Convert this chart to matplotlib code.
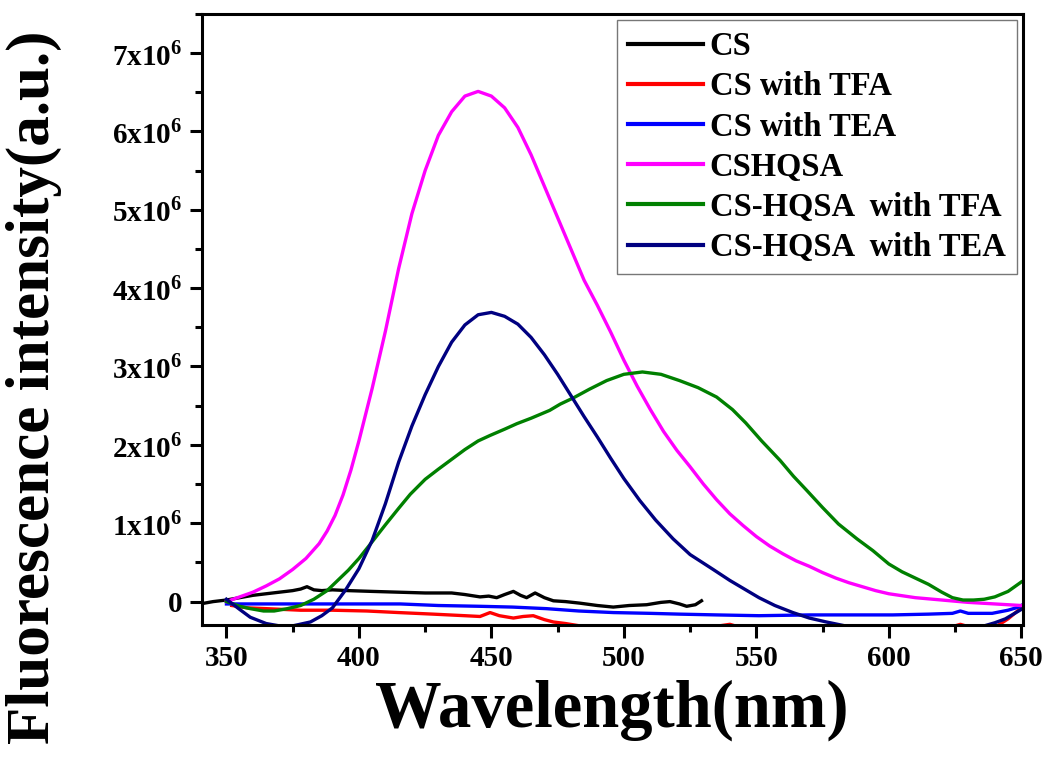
import numpy as np
import matplotlib
matplotlib.use("Agg")
from matplotlib import pyplot as plt
from matplotlib.ticker import MultipleLocator, FuncFormatter

plt.rcParams['font.family'] = ['Liberation Serif', 'DejaVu Serif']
plt.rcParams['font.weight'] = 'bold'
plt.rcParams['mathtext.fontset'] = 'custom'
plt.rcParams['mathtext.rm'] = 'Liberation Serif:bold'
plt.rcParams['mathtext.bf'] = 'Liberation Serif:bold'

# spectra, wavelength in nm, intensity in units of 1e6
cs_wl = [340, 345, 350, 355, 360, 365, 370, 375, 378, 380.4, 383, 386, 390, 396, 405, 415, 425, 435,
         440, 445.7, 449, 452, 455, 458.3, 461, 463.3, 466.5, 470, 473.4, 478, 483.4, 490, 496, 502,
         508.6, 514, 517.4, 521, 523.7, 527, 529.3]
cs_int = [-0.03, 0.0, 0.02, 0.05, 0.08, 0.10, 0.12, 0.14, 0.16, 0.19, 0.15, 0.14, 0.15, 0.14, 0.13, 0.12, 0.11, 0.11,
          0.09, 0.06, 0.07, 0.05, 0.09, 0.13, 0.08, 0.05, 0.11, 0.05, 0.01, 0.0, -0.02, -0.05, -0.07, -0.05,
          -0.04, -0.01, 0.0, -0.03, -0.06, -0.04, 0.01]

tfa_wl = [352, 358, 365, 378, 390, 403, 415, 428, 440, 445.7, 449.5, 453, 458.3, 462, 465.8, 470, 473.4, 478,
          483.4, 495, 510, 530, 536, 540, 545, 570, 600, 622, 627, 632, 640, 645, 650]
tfa_int = [-0.05, -0.08, -0.09, -0.11, -0.11, -0.12, -0.14, -0.16, -0.18, -0.19, -0.14, -0.18, -0.21, -0.19, -0.18,
           -0.23, -0.26, -0.28, -0.31, -0.33, -0.34, -0.34, -0.31, -0.29, -0.34, -0.35, -0.35, -0.34, -0.29, -0.34,
           -0.33, -0.22, -0.08]

tea_wl = [350, 378, 400, 415.6, 430, 445.7, 458, 470.8, 483, 496, 510, 521, 535, 551, 570, 585, 601.5, 615,
          624, 627, 630, 639, 645, 649, 650]
tea_int = [-0.03, -0.03, -0.03, -0.03, -0.05, -0.06, -0.07, -0.09, -0.12, -0.14, -0.15, -0.16, -0.17, -0.18,
           -0.17, -0.17, -0.17, -0.16, -0.15, -0.12, -0.15, -0.15, -0.11, -0.07, -0.05]

hq_wl = [350, 355, 360, 365, 370, 375, 380, 385, 388, 391, 394, 397, 400, 405, 410, 415, 420, 425, 430, 435,
         440, 445, 450, 455, 460, 465, 470, 475, 480, 485, 490, 495, 500, 505, 510, 515, 520, 525, 530, 535,
         540, 545, 550, 555, 560, 565, 570, 575, 580, 585, 590, 595, 600, 610, 620, 630, 640, 650]
hq_int = [0.0, 0.06, 0.12, 0.20, 0.29, 0.41, 0.55, 0.74, 0.90, 1.10, 1.36, 1.68, 2.05, 2.72, 3.45, 4.25, 4.95,
          5.50, 5.95, 6.25, 6.45, 6.51, 6.45, 6.30, 6.05, 5.70, 5.30, 4.90, 4.50, 4.10, 3.78, 3.44, 3.08, 2.75,
          2.45, 2.17, 1.93, 1.72, 1.50, 1.30, 1.12, 0.97, 0.83, 0.71, 0.61, 0.52, 0.45, 0.37, 0.30, 0.24, 0.19,
          0.14, 0.10, 0.05, 0.02, -0.01, -0.03, -0.05]

hq_tfa_wl = [350, 355, 359, 364, 368, 373, 378, 383, 388, 392, 396, 400, 404, 410, 415, 419.4, 425, 430, 434.4,
             440, 445, 449.5, 455, 459.6, 465, 472, 476, 481, 487, 493.5, 500, 507, 514, 521, 528, 535, 541,
             546, 552, 559, 564, 569, 575, 581, 588, 594, 600, 605, 610, 615, 620, 624, 628, 632, 636, 640,
             645, 650]
hq_tfa_int = [0.0, -0.06, -0.09, -0.12, -0.12, -0.09, -0.05, 0.03, 0.14, 0.27, 0.40, 0.55, 0.72, 0.98, 1.19,
              1.37, 1.56, 1.69, 1.80, 1.94, 2.05, 2.12, 2.20, 2.27, 2.34, 2.44, 2.52, 2.60, 2.71, 2.82, 2.90,
              2.93, 2.90, 2.82, 2.73, 2.61, 2.45, 2.28, 2.05, 1.80, 1.60, 1.42, 1.20, 0.99, 0.80, 0.65, 0.48,
              0.38, 0.30, 0.22, 0.12, 0.05, 0.02, 0.02, 0.03, 0.06, 0.13, 0.25]

hq_tea_wl = [350, 355, 359, 365, 370, 375, 381.7, 386, 390, 395, 400, 405, 410, 415, 420, 425, 430, 435,
             440, 445, 450, 455, 460, 465, 470, 475, 480, 485, 490, 495, 500, 506, 512, 518.6, 525, 533.7, 540,
             545, 551, 557, 563.8, 570, 576.4, 585, 595, 610, 625, 635, 640, 644, 649, 650]
hq_tea_int = [0.03, -0.10, -0.20, -0.28, -0.31, -0.31, -0.26, -0.18, -0.08, 0.15, 0.42, 0.78, 1.25, 1.78, 2.24,
              2.64, 3.00, 3.31, 3.53, 3.66, 3.69, 3.64, 3.54, 3.37, 3.15, 2.90, 2.63, 2.36, 2.10, 1.83,
              1.57, 1.29, 1.04, 0.80, 0.60, 0.41, 0.27, 0.17, 0.05, -0.05, -0.14, -0.21, -0.26, -0.32, -0.37,
              -0.42, -0.40, -0.32, -0.27, -0.22, -0.12, -0.10]

series = [
    (cs_wl, cs_int, 'CS', 'black'),
    (tfa_wl, tfa_int, 'CS with TFA', '#ff0000'),
    (tea_wl, tea_int, 'CS with TEA', '#0000ff'),
    (hq_wl, hq_int, 'CSHQSA', '#ff00ff'),
    (hq_tfa_wl, hq_tfa_int, 'CS-HQSA  with TFA', '#008000'),
    (hq_tea_wl, hq_tea_int, 'CS-HQSA  with TEA', '#000080'),
]

fig = plt.figure(figsize=(10.51, 7.67), dpi=100)
ax = fig.add_axes([0.192, 0.185, 0.781, 0.797])

for wl, inten, lab, col in series:
    ax.plot(wl, np.array(inten) * 1e6, color=col, lw=2.4, label=lab)

ax.set_xlim(340.7, 650.5)
ax.set_ylim(-0.3e6, 7.5e6)

ax.xaxis.set_major_locator(MultipleLocator(50))
ax.xaxis.set_minor_locator(MultipleLocator(25))
ax.yaxis.set_major_locator(MultipleLocator(1e6))
ax.yaxis.set_minor_locator(MultipleLocator(0.5e6))


def fmt_y(v, pos):
    n = int(round(v / 1e6))
    if n == 0:
        return '0'
    return '%dx10$^{6}$' % n


ax.yaxis.set_major_formatter(FuncFormatter(fmt_y))

for s in ax.spines.values():
    s.set_linewidth(2.2)
ax.tick_params(which='both', direction='out', width=2.2, top=False, right=False,
               labelsize=21)
ax.tick_params(which='major', length=9, pad=5)
ax.tick_params(which='minor', length=5)
for t in ax.get_xticklabels() + ax.get_yticklabels():
    t.set_fontweight('bold')

ax.set_xlabel('Wavelength(nm)', fontsize=48, fontweight='bold', labelpad=6)
fig.text(0.032, 0.495, 'Fluorescence intensity(a.u.)', rotation=90, fontsize=44,
         fontweight='bold', ha='center', va='center')

leg = ax.legend(loc='upper right', fontsize=23.5, frameon=True, fancybox=False,
                handlelength=2.3, handletextpad=0.2, labelspacing=0.28,
                borderpad=0.35, borderaxespad=0.0, bbox_to_anchor=(0.993, 0.99))
leg.get_frame().set_edgecolor('#555555')
leg.get_frame().set_linewidth(1.0)
for line in leg.get_lines():
    line.set_linewidth(3)
for t in leg.get_texts():
    t.set_fontweight('bold')

fig.savefig('out.png', dpi=100)
